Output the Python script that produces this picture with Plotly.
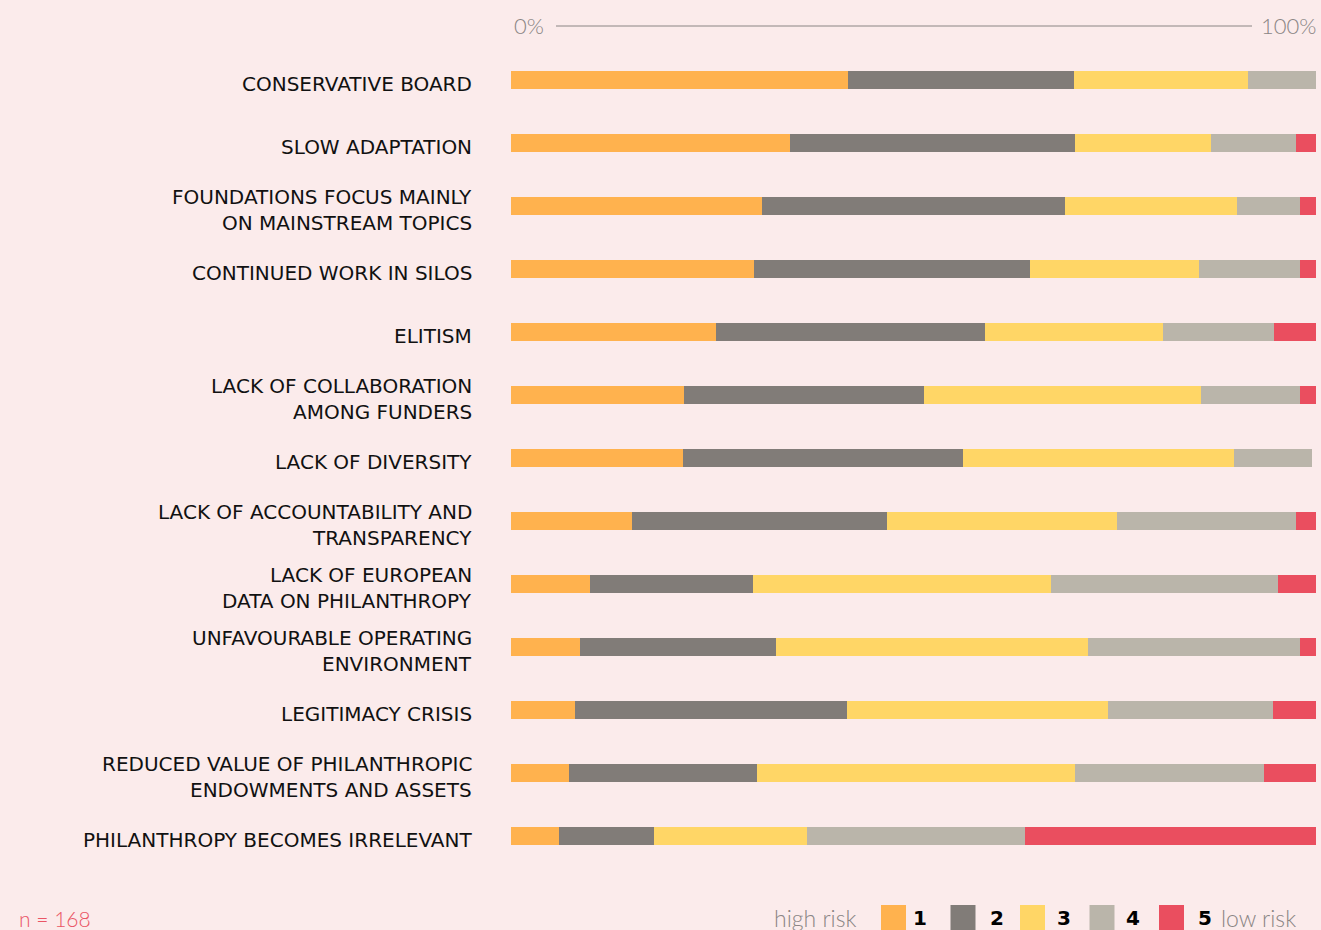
import plotly.graph_objects as go

categories = [
    "CONSERVATIVE BOARD",
    "SLOW ADAPTATION",
    "FOUNDATIONS FOCUS MAINLY<br>ON MAINSTREAM TOPICS",
    "CONTINUED WORK IN SILOS",
    "ELITISM",
    "LACK OF COLLABORATION<br>AMONG FUNDERS",
    "LACK OF DIVERSITY",
    "LACK OF ACCOUNTABILITY AND<br>TRANSPARENCY",
    "LACK OF EUROPEAN<br>DATA ON PHILANTHROPY",
    "UNFAVOURABLE OPERATING<br>ENVIRONMENT",
    "LEGITIMACY CRISIS",
    "REDUCED VALUE OF PHILANTHROPIC<br>ENDOWMENTS AND ASSETS",
    "PHILANTHROPY BECOMES IRRELEVANT",
]
risk1 = [41.9, 34.7, 31.2, 30.2, 25.5, 21.5, 21.4, 15.0, 9.8, 8.6, 8.0, 7.2, 6.0]
risk2 = [28.0, 35.3, 37.6, 34.3, 33.4, 29.8, 34.7, 31.7, 20.2, 24.3, 33.8, 23.4, 11.8]
risk3 = [21.6, 16.9, 21.4, 21.0, 22.1, 34.4, 33.7, 28.6, 37.1, 38.8, 32.4, 39.5, 19.0]
risk4 = [8.5, 10.6, 7.8, 12.5, 13.8, 12.3, 9.7, 22.2, 28.2, 26.3, 20.5, 23.5, 27.1]
risk5 = [0.0, 2.5, 2.0, 2.0, 5.2, 2.0, 0.0, 2.5, 4.7, 2.0, 5.3, 6.4, 36.1]
series_names = ["1", "2", "3", "4", "5"]
colors = ["#FFB24E", "#817C78", "#FFD666", "#BAB5AA", "#EA4E5F"]
n_label = "n = 168"
axis_labels = ["0%", "100%"]
legend_ends = ["high risk", "low risk"]

BG = "#FBEBEB"
W, H = 1321, 930
ML, MR, MT, MB = 511, 5, 48, 62
PH = H - MT - MB
PW = W - ML - MR


def py(p):
    return (H - MB - p) / PH


def px(p):
    return (p - ML) / PW


fig = go.Figure()
for name, vals, col in zip(series_names, [risk1, risk2, risk3, risk4, risk5], colors):
    fig.add_trace(go.Bar(
        y=categories, x=vals, name=name, orientation="h",
        marker=dict(color=col, line=dict(width=0)),
        width=0.285, showlegend=False,
        hovertemplate="%{y}: %{x}%<extra>" + name + "</extra>",
    ))

LABEL_FONT = dict(family="DejaVu Sans", size=20, color="#111111")
annotations = []
for cat in categories:
    lines = cat.split("<br>")
    shifts = [-4] if len(lines) == 1 else [9, -17]
    for line, s in zip(lines, shifts):
        annotations.append(dict(
            x=0, xref="paper", xshift=-37, xanchor="right",
            y=cat, yref="y", yshift=s, yanchor="middle",
            text=line, showarrow=False, font=LABEL_FONT,
        ))

GREY_FONT = dict(family="Lato", size=22, color="#8A8584", weight=300)
annotations.append(dict(x=px(512), xref="paper", xanchor="left", y=py(26), yref="paper",
                        yanchor="middle", text=axis_labels[0], showarrow=False, font=GREY_FONT))
annotations.append(dict(x=px(1318), xref="paper", xanchor="right", y=py(26), yref="paper",
                        yanchor="middle", text=axis_labels[1], showarrow=False, font=GREY_FONT))

shapes = [dict(type="line", xref="paper", yref="paper", x0=px(556), x1=px(1252),
               y0=py(26), y1=py(26), line=dict(color="#8A8584", width=1))]

# bottom legend
LEG_Y = 918
LEG_FONT = dict(family="Lato", size=23, color="#8A8584", weight=300)
annotations.append(dict(x=px(858), xref="paper", xanchor="right", y=py(LEG_Y), yref="paper",
                        yanchor="middle", text=legend_ends[0], showarrow=False, font=LEG_FONT))
annotations.append(dict(x=px(1219), xref="paper", xanchor="left", y=py(LEG_Y), yref="paper",
                        yanchor="middle", text=legend_ends[1], showarrow=False, font=LEG_FONT))
num_offsets = [39, 46, 44, 43, 46]
for i, (name, col) in enumerate(zip(series_names, colors)):
    left = 881 + 69.5 * i
    shapes.append(dict(type="rect", xref="paper", yref="paper", x0=px(left), x1=px(left + 25),
                       y0=py(905), y1=py(940), fillcolor=col, line=dict(width=0)))
    annotations.append(dict(x=px(left + num_offsets[i]), xref="paper", xanchor="center",
                            y=py(LEG_Y), yref="paper", yanchor="middle",
                            text="<b>" + name + "</b>", showarrow=False,
                            font=dict(family="DejaVu Sans", size=20, color="#000000")))

annotations.append(dict(x=px(17), xref="paper", xanchor="left", y=py(LEG_Y), yref="paper",
                        yanchor="middle", text=n_label, showarrow=False,
                        font=dict(family="Lato", size=21, color="#EA5565", weight=300)))

fig.update_layout(
    width=W, height=H, barmode="stack",
    paper_bgcolor=BG, plot_bgcolor=BG,
    margin=dict(l=ML, r=MR, t=MT, b=MB, autoexpand=False),
    xaxis=dict(range=[0, 100], visible=False, fixedrange=True),
    yaxis=dict(type="category", categoryorder="array", categoryarray=categories,
               autorange="reversed", showticklabels=False, showgrid=False,
               zeroline=False, fixedrange=True),
    annotations=annotations, shapes=shapes, bargap=0,
)
fig.write_html("out.html", config={"displayModeBar": False},
               post_script="document.body.style.margin='0';document.body.style.background='" + BG + "';")
